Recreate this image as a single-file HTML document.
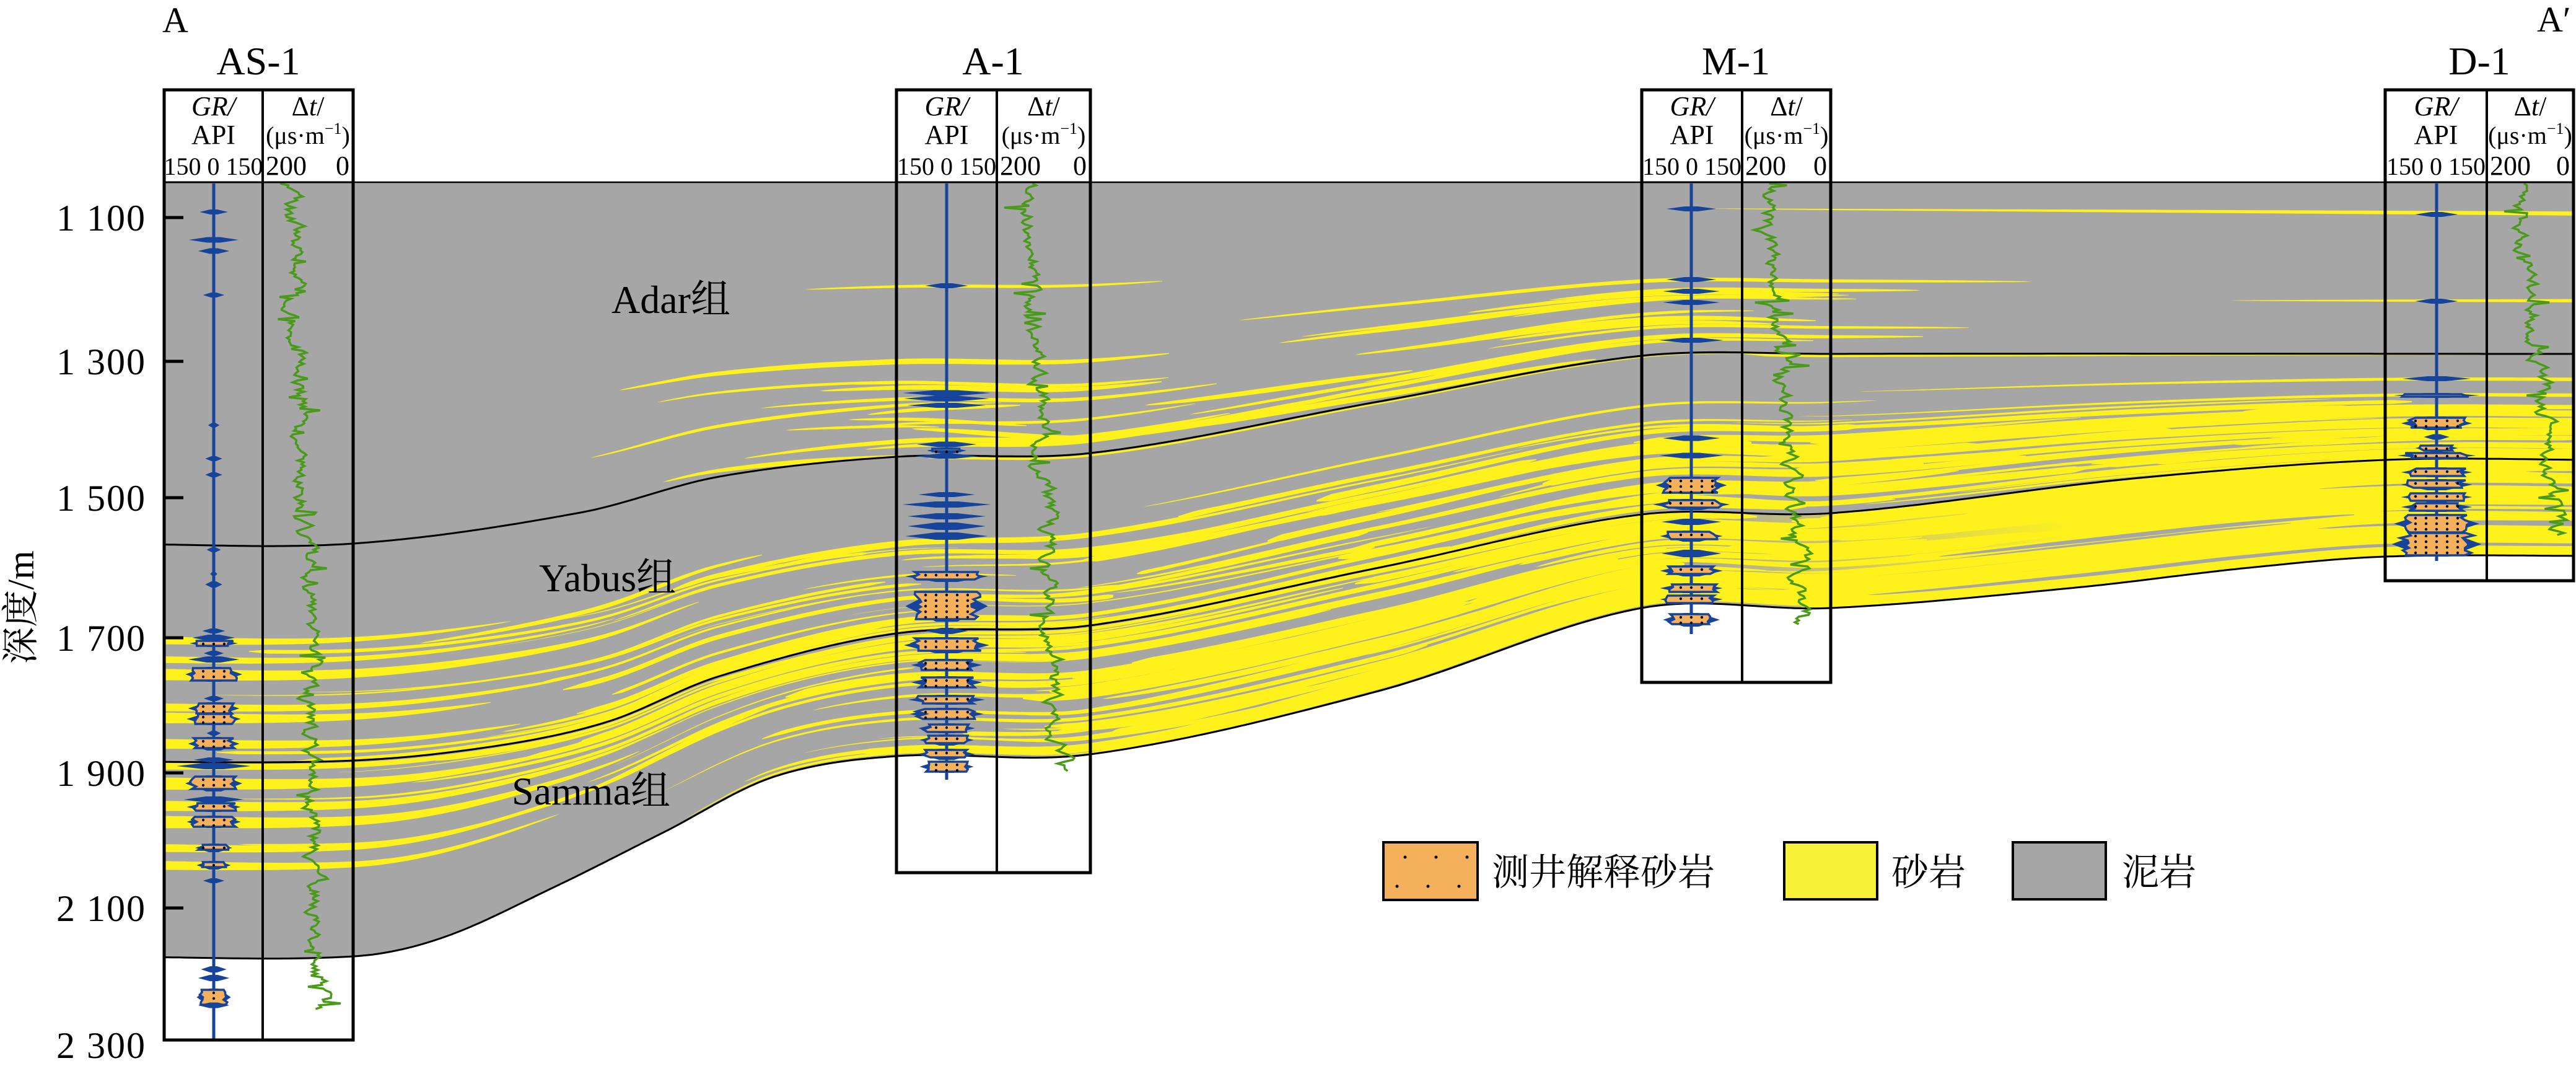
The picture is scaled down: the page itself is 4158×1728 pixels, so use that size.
<!DOCTYPE html>
<html><head><meta charset="utf-8">
<style>
html,body{margin:0;padding:0;background:#fff;}
svg{display:block;}
text{font-family:"Liberation Serif","Noto Serif CJK SC",serif;fill:#000;}
</style></head>
<body>
<svg id="s" xmlns="http://www.w3.org/2000/svg" width="4158" height="1728" viewBox="0 0 4158 1728">
<defs>
<linearGradient id="gS" gradientUnits="userSpaceOnUse" x1="2700" y1="0" x2="3350" y2="0">
<stop offset="0" stop-color="#fff21c" stop-opacity="0"/><stop offset="1" stop-color="#fff21c" stop-opacity="1"/></linearGradient>
</defs>
<g id="geo"></g>
<g id="wells"></g>
<g id="txt">
<text x="262" y="52" font-size="58">A</text>
<text x="4095" y="51" font-size="58">A′</text>
<text x="417" y="120" font-size="64" text-anchor="middle">AS-1</text>
<text x="1603" y="120" font-size="64" text-anchor="middle">A-1</text>
<text x="2802" y="120" font-size="64" text-anchor="middle">M-1</text>
<text x="4002" y="120" font-size="64" text-anchor="middle">D-1</text>
<g font-size="60" text-anchor="end" letter-spacing="2">
<text x="236" y="372">1 100</text>
<text x="236" y="604">1 300</text>
<text x="236" y="824">1 500</text>
<text x="236" y="1050">1 700</text>
<text x="236" y="1268">1 900</text>
<text x="236" y="1486">2 100</text>
<text x="236" y="1707">2 300</text>
</g>
<text transform="translate(54,980) rotate(-90)" font-size="60" text-anchor="middle">深度/m</text>
<text x="987" y="505" font-size="64">Adar组</text>
<text x="870" y="954" font-size="64">Yabus组</text>
<text x="826" y="1298" font-size="64">Samma组</text>
<rect x="2233" y="1359" width="152" height="93" fill="#f4b05a" stroke="#000" stroke-width="4"/>
<g fill="#000"><circle cx="2268" cy="1383" r="2.5"/><circle cx="2318" cy="1383" r="2.5"/><circle cx="2368" cy="1383" r="2.5"/><circle cx="2255" cy="1430" r="2.5"/><circle cx="2305" cy="1430" r="2.5"/><circle cx="2355" cy="1430" r="2.5"/></g>
<text x="2408" y="1428" font-size="60">测井解释砂岩</text>
<rect x="2880" y="1359" width="150" height="92" fill="#f7f237" stroke="#000" stroke-width="4"/>
<text x="3053" y="1428" font-size="60">砂岩</text>
<rect x="3249" y="1359" width="150" height="92" fill="#a6a6a6" stroke="#000" stroke-width="4"/>
<text x="3425" y="1428" font-size="60">泥岩</text>
</g>
</svg>
<script>
(function(){
var NS="http://www.w3.org/2000/svg";
function el(p,t,a){var e=document.createElementNS(NS,t);for(var k in a)e.setAttribute(k,a[k]);p.appendChild(e);return e;}
function rng(seed){return function(){seed|=0;seed=seed+0x6D2B79F5|0;var t=Math.imul(seed^seed>>>15,1|seed);t=t+Math.imul(t^t>>>7,61|t)^t;return((t^t>>>14)>>>0)/4294967296;};}
var R=rng(12345);
function spline(P){
 var n=P.length,m=[];
 for(var i=0;i<n;i++){ if(i==0||i==n-1)m.push(0); else m.push((P[i+1][1]-P[i-1][1])/(P[i+1][0]-P[i-1][0])); }
 return function(x){
  if(x<=P[0][0])return P[0][1]; if(x>=P[n-1][0])return P[n-1][1];
  var i=0; while(x>P[i+1][0])i++;
  var h=P[i+1][0]-P[i][0],t=(x-P[i][0])/h,t2=t*t,t3=t2*t;
  return (2*t3-3*t2+1)*P[i][1]+(t3-2*t2+t)*h*m[i]+(-2*t3+3*t2)*P[i+1][1]+(t3-t2)*h*m[i+1];
 };
}
var T0=function(x){return 294;};
var H1=spline([[200,878],[570,877],[937,827],[1161,769],[1447,737],[1760,731],[2225,648],[2650,574],[2955,571],[4200,571]]);
var H2=spline([[200,1229],[571,1227],[804,1203],[982,1164],[1161,1091],[1447,1022],[1760,1009],[2225,916],[2650,830],[2955,828],[3444,772],[3851,742],[4200,742]]);
var H3=spline([[200,1544],[571,1543],[714,1513],[893,1432],[1071,1343],[1250,1253],[1447,1220],[1760,1217],[2225,1115],[2650,981],[2955,981],[3351,948],[3630,916],[3851,898],[4200,897]]);
var X0=265,X1=4155,geo=document.getElementById('geo');
function band(top,bot,fa,fb,xa,xb){var up=[],dn=[];for(var x=xa;x<=xb;x+=10){up.push(x+","+(top(x)+fa*(bot(x)-top(x))).toFixed(1));dn.unshift(x+","+(top(x)+fb*(bot(x)-top(x))).toFixed(1));}return up.concat(dn).join(" ");}
el(geo,'polygon',{points:band(T0,H3,0,1,X0,X1+5),fill:'#a6a6a6'});
var defs=document.querySelector('defs');
function clip(id,top,bot){var c=el(defs,'clipPath',{id:id});el(c,'polygon',{points:band(top,bot,0,1,X0,X1)});}
clip('cA',T0,H1);clip('cY',H1,H2);clip('cS',H2,H3);
function streak(g,top,bot,f,df,xa,xb,th,shape,col){
 var up=[],dn=[];var st=8;
 for(var x=xa;x<=xb+0.1;x+=st){var s=(x-xa)/(xb-xa);var w;
  if(shape==0)w=Math.pow(Math.sin(Math.PI*s),0.5);
  else if(shape==1)w=Math.pow(1-s,0.6)*Math.min(1,s*30+0.2);
  else w=Math.pow(s,0.6)*Math.min(1,(1-s)*30+0.2);
  w*=th;var ff=f+df*s;var y=top(x)+ff*(bot(x)-top(x));
  up.push(x.toFixed(0)+","+(y-w/2).toFixed(1));dn.unshift(x.toFixed(0)+","+(y+w/2).toFixed(1));}
 el(g,'polygon',{points:up.concat(dn).join(" "),fill:col||'#fff21c'});
}
var gA=el(geo,'g',{'clip-path':'url(#cA)'}),gY=el(geo,'g',{'clip-path':'url(#cY)'}),gS=el(geo,'g',{'clip-path':'url(#cS)'});
// Adar
streak(gA,T0,H1,0.155,0.03,2760,4300,7,2);
streak(gA,T0,H1,0.38,0,1300,1880,5,0);
streak(gA,T0,H1,0.69,0,3600,4300,6,2);
streak(gA,T0,H1,0.56,0.02,2000,3280,6,0);
streak(gA,T0,H1,0.63,0,2500,3100,6,0);
streak(gA,T0,H1,0.66,0.02,2100,3000,6,0);
streak(gA,T0,H1,0.9,0,2200,3110,7,0);
for(var i=0;i<28;i++){var xa=950+R()*1500,L=250+R()*650;streak(gA,T0,H1,0.64+R()*0.34,(R()-0.5)*0.08,xa,xa+L,4+R()*5,0);}
// Yabus
[[1033,14,760],[1064,12,900],[1088,20,1000],[1141,14,850],[1158,20,780],[1200,18,700]].forEach(function(b){streak(gY,H1,H2,(b[0]-878)/351,0,120,b[2]+R()*150,b[1],1);});
for(var i=0;i<170;i++){
 var xa=300+R()*3500,L=300+R()*1200,f=R();
 if(xa<1300)f=0.45+0.55*R();
 if(xa>2900)f=0.5+0.5*R();
 if(f<0.4&&R()<0.75)continue;
 if(xa<1300&&R()<0.55)continue;
 var th=3+R()*6; if(xa>1500&&xa<2900&&f>0.5)th+=3;
 streak(gY,H1,H2,f,(R()-0.5)*0.12,xa,xa+L,th,Math.floor(R()*3));
}
streak(gY,H1,H2,0.24,0,3000,4300,6,2);
streak(gY,H1,H2,0.39,0,2900,4300,6,2);
streak(gY,H1,H2,0.655,0,2700,4300,18,2);
streak(gY,H1,H2,0.93,0,2600,4300,12,2);
// Samma
[[1236,12,1100],[1264,22,900],[1300,18,1000],[1326,22,900],[1368,14,1000],[1396,16,900]].forEach(function(b){streak(gS,H2,H3,(b[0]-1229)/315,0,120,b[2]+R()*150,b[1],1);});
for(var i=0;i<210;i++){
 var xa=300+R()*3700,L=300+R()*1300,f=R();
 if(xa<1000)f=R()*0.55;
 if(xa<1200&&R()<0.5)continue;
 var th=3+R()*8; if(xa>1600)th+=3;
 streak(gS,H2,H3,f,(R()-0.5)*0.12,xa,xa+L,th,Math.floor(R()*3));
}
el(gS,'polygon',{points:band(H2,H3,0,1,2600,4200),fill:'url(#gS)'});
for(var i=0;i<12;i++){var xa=3000+R()*1100;streak(gS,H2,H3,0.1+R()*0.85,0,xa,xa+400+R()*800,3+R()*4,0,'#a6a6a6');}
function line(fn,xa,xb,w){var p=[];for(var x=xa;x<=xb;x+=8)p.push(x+","+fn(x).toFixed(1));el(geo,'polyline',{points:p.join(" "),fill:'none',stroke:'#000','stroke-width':w});}
line(H1,X0,X1,3);line(H2,X0,X1,3);line(H3,X0,X1,3);
el(geo,'line',{x1:X0,y1:294,x2:X1,y2:294,stroke:'#000','stroke-width':2.5});
[351,583,803,1029,1247,1465].forEach(function(y){el(geo,'rect',{x:263,y:y-2.5,width:33,height:5,fill:'#000'});});
var W=document.getElementById('wells');
var wells=[
 {L:265,D:424,R:570,B:1678,gx:345,ge:1679,t0:470,t1:518,te:1628,
  bl:[[342,20,4,0],[387,35,5,0],[405,22,5,0],[476,15,4,0],[686,8,4,0],[740,12,4,0],[766,12,4,0],[887,10,4,0],[926,5,4,0],[943,12,6,0],[1018,16,4,0],[1029,30,6,0],[1038,34,8,1],[1054,14,4,0],[1064,36,6,0],[1088,40,20,1],[1127,14,4,0],[1143,36,16,1],[1160,38,16,1],[1183,10,4,0],[1200,36,18,1],[1226,28,4,0],[1236,52,6,0],[1264,40,22,1],[1290,42,6,0],[1302,38,12,1],[1326,38,16,1],[1368,26,10,1],[1396,24,10,1],[1421,15,4,0],[1564,18,6,0],[1578,22,6,0],[1609,24,24,1],[1622,22,5,0]]},
 {L:1447,D:1609,R:1760,B:1408,gx:1528,ge:1258,t0:1662,t1:1712,te:1244,
  bl:[[461,30,4,0],[634,62,5,0],[643,60,5,0],[654,55,4,0],[717,42,5,0],[727,28,6,1],[736,45,4,0],[798,40,4,0],[814,62,6,0],[833,55,6,0],[849,55,8,0],[865,58,8,0],[930,58,14,1],[978,58,46,1],[1018,30,6,0],[1041,60,22,1],[1073,50,16,1],[1101,50,16,1],[1129,54,12,1],[1152,52,16,1],[1175,40,12,1],[1194,38,14,1],[1217,40,14,1],[1237,38,16,1]]},
 {L:2650,D:2812,R:2955,B:1101,gx:2730,ge:1023,t0:2848,t1:2910,te:1009,
  bl:[[337,35,4,0],[451,35,4,0],[470,40,4,0],[488,40,4,0],[549,45,4,0],[707,40,5,0],[735,45,5,0],[783,50,24,1],[814,54,14,1],[842,42,6,0],[865,44,14,1],[893,42,8,0],[921,44,14,1],[949,44,12,1],[967,44,12,1],[1000,40,18,1]]},
 {L:3850,D:4014,R:4154,B:937,gx:3933,ge:905,t0:4065,t1:4128,te:865,
  bl:[[346,30,4,0],[486,30,4,0],[611,48,4,0],[638,60,4,1],[683,50,18,1],[705,18,5,0],[723,30,8,1],[735,55,8,1],[762,50,12,1],[782,50,14,1],[802,50,12,1],[818,50,12,1],[845,60,28,1],[878,63,36,1]]}
];
wells.forEach(function(w,wi){
 var r=rng(777+wi*31);
 el(W,'rect',{x:w.L,y:145,width:w.R-w.L,height:149,fill:'#fff'});
 var p=[],x=0;
 for(var y=296;y<=w.te;y+=3){var s=(y-296)/(w.te-296);var base=w.t0+(w.t1-w.t0)*s;
  x=x*0.75+(r()-0.5)*20;var sp=(r()<0.08)?(r()-0.5)*70:0;p.push((base+x+sp).toFixed(1)+","+y);}
 el(W,'polyline',{points:p.join(" "),fill:'none',stroke:'#4a9a1a','stroke-width':3.5});
 el(W,'line',{x1:w.gx,y1:296,x2:w.gx,y2:w.ge,stroke:'#16449a','stroke-width':5});
 w.bl.forEach(function(b){
  var y=b[0],hw=b[1],h=b[2],cx=w.gx;
  el(W,'polygon',{points:[cx-hw*1.15,y,cx-hw*0.3,y-h/2-2,cx+hw*0.3,y-h/2-2,cx+hw*1.15,y,cx+hw*0.3,y+h/2+2,cx-hw*0.3,y+h/2+2].join(","),fill:'#16449a'});
  if(b[3]){
   var L=[],Rr=[];
   for(var yy=y-h/2;yy<=y+h/2+0.1;yy+=4){var a=hw*(0.65+0.3*r()),c=hw*(0.65+0.3*r());L.unshift((cx-a).toFixed(1)+","+yy.toFixed(1));Rr.push((cx+c).toFixed(1)+","+yy.toFixed(1));}
   el(W,'polygon',{points:Rr.concat(L).join(" "),fill:'#f4b05a',stroke:'#16449a','stroke-width':3.5});
   for(var yy=y-h/2+5;yy<y+h/2;yy+=9){for(var k=-3;k<=3;k++){var dx=k*17;if(Math.abs(dx)<hw*0.7)el(W,'circle',{cx:cx+dx,cy:yy,r:2.2,fill:'#000'});}}
  }
 });
 el(W,'rect',{x:w.L,y:145,width:w.R-w.L,height:w.B-145,fill:'none',stroke:'#000','stroke-width':5});
 el(W,'line',{x1:w.D,y1:145,x2:w.D,y2:w.B,stroke:'#000','stroke-width':4});
 el(W,'line',{x1:w.L,y1:294,x2:w.R,y2:294,stroke:'#000','stroke-width':3});
 var gc=(w.L+w.D)/2,dc=(w.D+w.R)/2;
 var t=el(W,'text',{x:gc,y:186,'font-size':44,'text-anchor':'middle','font-style':'italic'});t.textContent="GR/";
 t=el(W,'text',{x:gc,y:232,'font-size':44,'text-anchor':'middle'});t.textContent="API";
 t=el(W,'text',{x:gc,y:282,'font-size':40,'text-anchor':'middle'});t.textContent="150 0 150";
 t=el(W,'text',{x:dc,y:186,'font-size':44,'text-anchor':'middle'});t.innerHTML='Δ<tspan font-style="italic">t</tspan>/';
 t=el(W,'text',{x:dc,y:232,'font-size':40,'text-anchor':'middle'});t.innerHTML='(μs·m<tspan font-size="26" dy="-16">−1</tspan><tspan dy="16">)</tspan>';
 t=el(W,'text',{x:w.D+5,y:282,'font-size':44});t.textContent="200";
 t=el(W,'text',{x:w.R-6,y:282,'font-size':44,'text-anchor':'end'});t.textContent="0";
});
})();
</script>
</body></html>
